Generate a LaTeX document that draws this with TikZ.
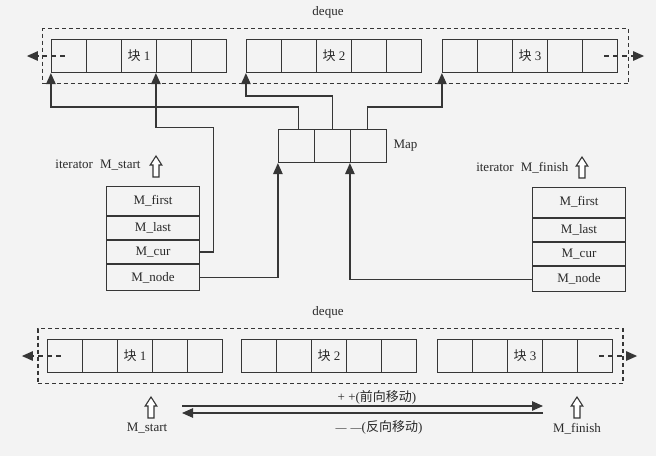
\documentclass[tikz,border=0pt]{standalone}
\usepackage{fontspec}
\setmainfont{Liberation Serif}
\newfontfamily\cjk{Noto Sans CJK SC}
\usetikzlibrary{arrows.meta,calc}
\definecolor{bg}{HTML}{F3F3F3}
\definecolor{ln}{HTML}{363636}
\definecolor{tx}{HTML}{2A2A2A}
\begin{document}
\begin{tikzpicture}[x=1pt,y=-1pt,
  every node/.style={font=\fontsize{13}{15}\selectfont, text=tx},
  cell/.style={draw=ln, line width=1.2pt, minimum width=35pt, minimum height=33pt, inner sep=0pt},
  mapcell/.style={cell, minimum width=36pt},
  dqbox/.style={draw=ln, line width=1.1pt, dash pattern=on 4pt off 3pt, minimum width=#1, minimum height=55pt, inner sep=0pt},
  rowbox/.style={draw=ln, line width=1.2pt, minimum width=93pt, minimum height=#1, inner sep=0pt, anchor=north},
  conn/.style={draw=ln, line width=1.2pt, -{Triangle[length=11pt,width=9.5pt]}},
  dconn/.style={conn, dash pattern=on 5pt off 4pt},
  hollowpath/.style={draw=ln, fill=white, line width=1.1pt, line join=miter},
]
\fill[bg] (0,0) rectangle (656,456);
\useasboundingbox (0,0) rectangle (656,456);

% hollow up-arrow, drawn from its bottom-centre point
\newcommand\hollowup[1]{%
  \draw[hollowpath] (#1) ++(-3,0) -- ++(0,-12) -- ++(-2.8,0) -- ++(5.8,-9) -- ++(5.8,9) -- ++(-2.8,0) -- ++(0,12) -- cycle;}

% ---------- top deque ----------
\node (dqlabA) at (328,12) {deque};
\node[dqbox=586pt] (dqA) at (335.5,56) {};
\foreach \i/\t in {1/,2/,3/{{\cjk 块} 1},4/,5/}{
  \node[cell] (t1c\i) at ({51.5+(\i-0.5)*35},56) {\t};
  \node[cell] (t2c\i) at ({246.5+(\i-0.5)*35},56) {};
  \node[cell] (t3c\i) at ({442.5+(\i-0.5)*35},56) {};
}
\node at (t2c3) {{\cjk 块} 2};
\node at (t3c3) {{\cjk 块} 3};
\draw[dconn] ([xshift=14pt]t1c1.west) -- ([xshift=-24pt]t1c1.west);
\draw[dconn] ([xshift=-14pt]t3c5.east) -- ([xshift=26pt]t3c5.east);

% ---------- map ----------
\foreach \i in {1,2,3}{
  \node[mapcell] (m\i) at ({278.5+(\i-0.5)*36},146) {};
}
\node[anchor=west] (maplab) at ([xshift=3pt]m3.east) {Map};

% ---------- M_start iterator ----------
\node[anchor=east] (itS) at (144,165) {iterator\hspace{7pt}M\_start};
\coordinate (haS) at (156,177);
\hollowup{haS}
\node[rowbox=29pt] (sfirst) at (153,185.5) {M\_first};
\node[rowbox=23pt] (slast) at (sfirst.south) {M\_last};
\node[rowbox=23pt] (scur) at (slast.south) {M\_cur};
\node[rowbox=26pt] (snode) at (scur.south) {M\_node};

% ---------- M_finish iterator ----------
\node[anchor=east] (itF) at (572,168) {iterator\hspace{7pt}M\_finish};
\coordinate (haF) at (582,178);
\hollowup{haF}
\node[rowbox=30pt] (ffirst) at (579,186.5) {M\_first};
\node[rowbox=23pt] (flast) at (ffirst.south) {M\_last};
\node[rowbox=23pt] (fcur) at (flast.south) {M\_cur};
\node[rowbox=25pt] (fnode) at (fcur.south) {M\_node};

% ---------- connectors (top) ----------
\draw[conn] ([xshift=2pt]m1.north) -- ++(0,-22) -| (t1c1.south west);
\draw[conn] (m2.north) -- ++(0,-33) -| (t2c1.south west);
\draw[conn] ([xshift=-1pt]m3.north) -- ++(0,-22) -| (t3c1.south west);
\draw[conn] (scur.east) -- ++(13,0) -- ++(0,-124.5) -| (t1c4.south west);
\draw[conn] (snode.east) -| (m1.south west);
\draw[conn] (fnode.west) -| (m3.south west);

% ---------- bottom deque ----------
\node (dqlabB) at (328,312) {deque};
\node[dqbox=585pt] (dqB) at (330.5,356) {};
\foreach \i/\t in {1/,2/,3/{{\cjk 块} 1},4/,5/}{
  \node[cell] (b1c\i) at ({47.5+(\i-0.5)*35},356) {\t};
  \node[cell] (b2c\i) at ({241.5+(\i-0.5)*35},356) {};
  \node[cell] (b3c\i) at ({437.5+(\i-0.5)*35},356) {};
}
\node at (b2c3) {{\cjk 块} 2};
\node at (b3c3) {{\cjk 块} 3};
\draw[dconn] ([xshift=14pt]b1c1.west) -- ([xshift=-25pt]b1c1.west);
\draw[dconn] ([xshift=-14pt]b3c5.east) -- ([xshift=24pt]b3c5.east);

% ---------- bottom iterators ----------
\coordinate (hbS) at (151,418);
\hollowup{hbS}
\node (lbS) at (147,428) {M\_start};
\coordinate (hbF) at (577,418);
\hollowup{hbF}
\node (lbF) at (577,429) {M\_finish};
\coordinate (mvL) at (182,409.5);
\coordinate (mvR) at (543,409.5);
\draw[conn] ([yshift=3.5pt]mvL) -- ([yshift=3.5pt]mvR);
\draw[conn] ([yshift=-3.5pt]mvR) -- ([yshift=-3.5pt]mvL);
\node (fwd) at (377,397) {+ +({\cjk 前向移动})};
\node (bwd) at (379,427) {{\fontsize{11}{13}\selectfont —\hspace{4pt}—}({\cjk 反向移动})};
\end{tikzpicture}
\end{document}
